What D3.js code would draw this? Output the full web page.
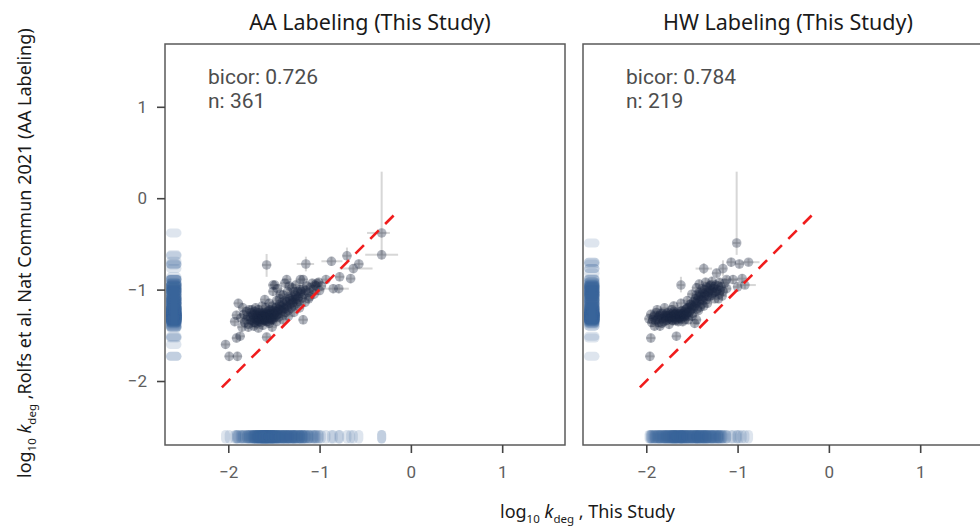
<!DOCTYPE html>
<html>
<head>
<meta charset="utf-8">
<script src="https://cdn.jsdelivr.net/npm/d3@7"></script>
<style>
body { margin: 0; background: #fff; }
</style>
</head>
<body>
<svg width="980" height="526"></svg>
<script>
var panels = ["AA Labeling (This Study)", "HW Labeling (This Study)"];
var bicor = ["0.726", "0.784"];
var counts = [361, 219];
var xTicks = [-2, -1, 0, 1];
var yTicks = [-2, -1, 0, 1];
var identity = [-2.07, -0.14];
var defaultErr = 0.05;

// [x, y] or [x, y, xlo, xhi, ylo, yhi]
var aaPoints = [
  [-2.03,-1.60],[-1.99,-1.73],[-1.90,-1.73],[-1.91,-1.53],[-1.87,-1.51],[-1.58,-1.52],[-1.18,-1.33],
  [-1.58,-0.73,-1.63,-1.53,-0.86,-0.61],
  [-1.15,-0.72,-1.25,-1.06,-0.80,-0.64],
  [-0.87,-0.69,-0.98,-0.75,-0.74,-0.64],
  [-0.70,-0.63,-0.75,-0.65,-0.71,-0.54],
  [-0.63,-0.77,-0.78,-0.42,-0.82,-0.72],
  [-0.57,-0.72],[-0.66,-0.88],[-0.78,-0.86],
  [-0.85,-0.99,-0.98,-0.68,-1.04,-0.94],
  [-0.79,-0.99],[-0.93,-0.89],[-0.98,-0.96],
  [-0.32,-0.38,-0.48,-0.23,-0.62,0.29],
  [-0.32,-0.62,-0.50,-0.14,-0.67,-0.57],
  [-1.36,-0.89],[-1.49,-0.95],[-1.21,-0.89],[-1.03,-0.93],[-1.18,-0.89],[-1.51,-0.95],[-1.38,-0.93],
  [-1.05,-0.95],[-1.21,-1.00],[-1.11,-1.08],[-1.29,-1.11],[-1.60,-1.11],[-1.51,-1.02],[-1.40,-1.06],
  [-1.89,-1.15],[-1.84,-1.20],[-1.91,-1.28],[-1.93,-1.35],[-1.85,-1.41],[-1.78,-1.41],[-1.67,-1.42],[-1.52,-1.41],
  [-1.76,-1.30],[-1.75,-1.25],[-1.74,-1.34],[-1.73,-1.28],[-1.72,-1.31],[-1.71,-1.36],[-1.70,-1.27],[-1.70,-1.32],
  [-1.69,-1.29],[-1.68,-1.34],[-1.68,-1.25],[-1.67,-1.31],[-1.66,-1.28],[-1.66,-1.35],[-1.65,-1.30],[-1.64,-1.27],
  [-1.64,-1.33],[-1.63,-1.29],[-1.62,-1.31],[-1.62,-1.26],[-1.61,-1.34],[-1.60,-1.29],[-1.60,-1.32],[-1.59,-1.27],
  [-1.58,-1.30],[-1.58,-1.35],[-1.57,-1.24],[-1.56,-1.29],[-1.56,-1.32],[-1.55,-1.27],[-1.54,-1.30],[-1.54,-1.22],
  [-1.53,-1.33],[-1.52,-1.26],[-1.51,-1.29],[-1.50,-1.23],[-1.50,-1.31],[-1.49,-1.26],[-1.48,-1.20],[-1.47,-1.28],
  [-1.46,-1.24],[-1.45,-1.30],[-1.44,-1.21],[-1.43,-1.26],[-1.42,-1.18],[-1.41,-1.23],[-1.40,-1.28],[-1.39,-1.16],
  [-1.38,-1.21],[-1.37,-1.25],[-1.36,-1.13],[-1.35,-1.19],[-1.34,-1.23],[-1.33,-1.10],[-1.32,-1.16],[-1.31,-1.20],
  [-1.30,-1.08],[-1.29,-1.14],[-1.28,-1.18],[-1.27,-1.05],[-1.26,-1.11],[-1.25,-1.15],[-1.24,-1.02],[-1.23,-1.08],
  [-1.22,-1.13],[-1.21,-1.04],[-1.19,-1.09],[-1.18,-0.99],[-1.17,-1.05],[-1.15,-1.01],[-1.14,-0.96],[-1.12,-1.03],
  [-1.10,-0.98],[-1.08,-0.93],[-1.07,-1.00],[-1.04,-0.96],[-1.01,-0.92],
  [-1.86,-1.31],[-1.83,-1.27],[-1.82,-1.36],[-1.80,-1.24],[-1.80,-1.33],[-1.79,-1.29],[-1.78,-1.38],[-1.77,-1.22],
  [-1.65,-1.32],[-1.63,-1.30],[-1.61,-1.28],[-1.59,-1.31],[-1.57,-1.28],[-1.55,-1.31],[-1.53,-1.29],[-1.60,-1.34],
  [-1.67,-1.27],[-1.62,-1.33],[-1.58,-1.26],[-1.52,-1.32],[-1.69,-1.33],[-1.64,-1.29],[-1.56,-1.26],
  [-1.70,-1.20],[-1.63,-1.18],[-1.55,-1.15],[-1.47,-1.12],[-1.43,-1.05],[-1.35,-1.02],[-1.30,-0.98],[-1.26,-0.95],
  [-1.46,-0.99],[-1.33,-0.96],
  [-1.72,-1.40],[-1.62,-1.39],[-1.55,-1.37],[-1.47,-1.35],[-1.40,-1.33],[-1.34,-1.29],[-1.28,-1.25],[-1.22,-1.20],
  [-1.16,-1.14],[-1.12,-1.10],[-1.06,-1.05],[-1.00,-1.01],
  [-1.74,-1.22],[-1.72,-1.36],[-1.71,-1.24],[-1.69,-1.37],[-1.68,-1.30],[-1.66,-1.32],[-1.65,-1.25],[-1.64,-1.36],
  [-1.63,-1.32],[-1.62,-1.28],[-1.61,-1.30],[-1.60,-1.25],[-1.59,-1.33],[-1.58,-1.28],[-1.57,-1.31],[-1.56,-1.35],
  [-1.55,-1.23],[-1.54,-1.27],[-1.53,-1.31],[-1.52,-1.24],[-1.51,-1.33],[-1.50,-1.27],[-1.49,-1.30],[-1.48,-1.24],
  [-1.47,-1.19],[-1.46,-1.27],[-1.45,-1.22],[-1.44,-1.16],[-1.42,-1.22],[-1.41,-1.14],[-1.39,-1.20],[-1.38,-1.12],
  [-1.36,-1.18],[-1.34,-1.08],[-1.32,-1.12],[-1.30,-1.15],[-1.28,-1.02],[-1.26,-1.07],[-1.24,-1.10],[-1.20,-1.02],
  [-1.76,-1.33],[-1.73,-1.27],[-1.67,-1.22],[-1.59,-1.20],[-1.52,-1.18],[-1.44,-1.10]
];

var hwPoints = [
  [-1.96,-1.73],[-1.95,-1.53],[-1.67,-1.51],
  [-1.01,-0.49,-1.05,-0.97,-0.62,0.29],
  [-1.37,-0.77,-1.46,-1.28,-0.83,-0.71],
  [-1.62,-0.95,-1.66,-1.58,-1.03,-0.86],
  [-1.16,-0.77,-1.20,-1.12,-0.85,-0.68],
  [-1.07,-0.70],[-0.98,-0.72],
  [-0.88,-0.70,-0.96,-0.76,-0.74,-0.66],
  [-1.23,-0.82],
  [-1.12,-0.89,-1.20,-1.00,-0.93,-0.85],
  [-1.05,-0.89],
  [-0.92,-0.95,-1.01,-0.80,-0.99,-0.91],
  [-1.12,-0.99],[-1.45,-1.33],[-1.21,-1.10],[-1.00,-0.97],[-0.95,-0.88],
  [-1.97,-1.32],[-1.95,-1.27],[-1.94,-1.36],[-1.92,-1.30],[-1.90,-1.34],[-1.89,-1.25],[-1.87,-1.31],[-1.86,-1.36],
  [-1.85,-1.28],[-1.83,-1.32],[-1.82,-1.26],[-1.81,-1.35],[-1.80,-1.29],[-1.79,-1.31],[-1.78,-1.26],[-1.77,-1.33],
  [-1.76,-1.29],[-1.75,-1.31],[-1.74,-1.27],[-1.73,-1.30],[-1.72,-1.33],[-1.71,-1.26],[-1.70,-1.29],[-1.69,-1.31],
  [-1.68,-1.27],[-1.67,-1.30],[-1.66,-1.24],[-1.65,-1.28],[-1.64,-1.31],[-1.63,-1.26],[-1.62,-1.29],[-1.61,-1.23],
  [-1.60,-1.27],[-1.59,-1.30],[-1.58,-1.24],[-1.57,-1.27],[-1.56,-1.21],[-1.55,-1.25],[-1.54,-1.29],[-1.53,-1.19],
  [-1.52,-1.23],[-1.51,-1.16],[-1.50,-1.21],[-1.49,-1.26],[-1.48,-1.13],[-1.47,-1.18],[-1.46,-1.10],[-1.45,-1.15],
  [-1.44,-1.21],[-1.43,-1.08],[-1.42,-1.13],[-1.41,-1.05],[-1.40,-1.11],[-1.39,-1.16],[-1.38,-1.03],[-1.37,-1.08],
  [-1.36,-1.00],[-1.35,-1.06],[-1.34,-1.11],[-1.33,-0.98],[-1.32,-1.03],[-1.31,-1.08],[-1.30,-0.96],[-1.29,-1.01],
  [-1.28,-1.06],[-1.27,-0.99],[-1.25,-1.03],[-1.24,-0.95],[-1.22,-1.00],[-1.20,-1.05],[-1.18,-0.97],[-1.16,-1.02],
  [-1.14,-0.93],[-1.80,-1.20],[-1.72,-1.22],[-1.65,-1.35],[-1.58,-1.33],[-1.50,-1.29],[-1.43,-1.23],[-1.37,-1.18],
  [-1.91,-1.40],[-1.47,-1.37],[-1.75,-1.38],[-1.68,-1.34],[-1.62,-1.32],[-1.70,-1.28],[-1.66,-1.29],[-1.60,-1.29],
  [-1.93,-1.33],[-1.91,-1.28],[-1.88,-1.33],[-1.86,-1.29],[-1.84,-1.26],[-1.83,-1.37],[-1.81,-1.31],[-1.79,-1.28],
  [-1.78,-1.34],[-1.77,-1.29],[-1.76,-1.25],[-1.74,-1.32],[-1.73,-1.28],[-1.72,-1.30],[-1.71,-1.34],[-1.70,-1.24],
  [-1.69,-1.27],[-1.68,-1.32],[-1.67,-1.26],[-1.66,-1.33],[-1.64,-1.27],[-1.63,-1.30],[-1.62,-1.24],[-1.61,-1.27],
  [-1.59,-1.26],[-1.58,-1.29],[-1.57,-1.22],[-1.56,-1.28],[-1.55,-1.20],[-1.53,-1.25],[-1.52,-1.16],[-1.50,-1.18],
  [-1.48,-1.20],[-1.46,-1.14],[-1.45,-1.06],[-1.44,-1.12],[-1.42,-1.03],[-1.40,-1.07],[-1.39,-0.99],[-1.38,-1.12],
  [-1.36,-1.04],[-1.34,-0.97],[-1.33,-1.07],[-1.31,-1.01],[-1.29,-0.95],[-1.27,-1.04],[-1.26,-0.97],[-1.23,-1.02],
  [-1.21,-0.96],[-1.19,-1.01],[-1.88,-1.22],[-1.85,-1.40],[-1.60,-1.35],[-1.54,-1.33],[-1.41,-1.19],
  [-1.55,-1.12],[-1.50,-1.05],[-1.45,-0.98],[-1.42,-0.94],[-1.35,-0.92],[-1.28,-0.91],[-1.20,-0.92],
  [-1.70,-1.18],[-1.62,-1.15],[-1.33,-1.15],[-1.25,-1.10],[-1.17,-1.07]
];

var allPoints = [aaPoints, hwPoints];

var svg = d3.select('svg');
var lefts = [165, 583];
var size = 400;

var y = d3.scaleLinear().domain([-2.70, 1.687]).range([445, 44]);

svg.append("defs").selectAll("clipPath")
    .data(lefts)
    .enter()
    .append("clipPath")
    .attr("id", function (d, i) { return "clip" + i })
    .append("rect")
    .attr("x", function (d) { return d })
    .attr("y", 44)
    .attr("width", size)
    .attr("height", 401);

lefts.forEach(function (left, i) {
    var x = d3.scaleLinear().domain([-2.693, 1.688]).range([left, left + size]);
    var pts = allPoints[i];
    var g = svg.append("g").attr("clip-path", "url(#clip" + i + ")");

    // rugs
    g.selectAll(".rugy")
        .data(pts)
        .enter()
        .append("line")
        .attr("x1", left + 5.5)
        .attr("x2", left + 12)
        .attr("y1", function (d) { return y(d[1]) })
        .attr("y2", function (d) { return y(d[1]) })
        .attr("stroke", "#38649a")
        .attr("stroke-width", 9)
        .attr("stroke-linecap", "round")
        .attr("opacity", 0.16);

    g.selectAll(".rugx")
        .data(pts)
        .enter()
        .append("line")
        .attr("x1", function (d) { return x(d[0]) })
        .attr("x2", function (d) { return x(d[0]) })
        .attr("y1", 434.5)
        .attr("y2", 439)
        .attr("stroke", "#38649a")
        .attr("stroke-width", 9)
        .attr("stroke-linecap", "round")
        .attr("opacity", 0.16);

    // error bars
    g.selectAll(".ex")
        .data(pts)
        .enter()
        .append("line")
        .attr("x1", function (d) { return x(d.length > 2 ? d[2] : d[0] - defaultErr) })
        .attr("x2", function (d) { return x(d.length > 2 ? d[3] : d[0] + defaultErr) })
        .attr("y1", function (d) { return y(d[1]) })
        .attr("y2", function (d) { return y(d[1]) })
        .attr("stroke", "#b0b0b0")
        .attr("stroke-width", 2)
        .attr("opacity", 0.5);

    g.selectAll(".ey")
        .data(pts)
        .enter()
        .append("line")
        .attr("x1", function (d) { return x(d[0]) })
        .attr("x2", function (d) { return x(d[0]) })
        .attr("y1", function (d) { return y(d.length > 2 ? d[4] : d[1] - defaultErr) })
        .attr("y2", function (d) { return y(d.length > 2 ? d[5] : d[1] + defaultErr) })
        .attr("stroke", "#b0b0b0")
        .attr("stroke-width", 2)
        .attr("opacity", 0.5);

    g.selectAll("circle")
        .data(pts)
        .enter()
        .append("circle")
        .attr("cx", function (d) { return x(d[0]) })
        .attr("cy", function (d) { return y(d[1]) })
        .attr("r", 4.8)
        .attr("fill", "#1a2640")
        .attr("opacity", 0.34);

    g.append("line")
        .attr("x1", x(identity[0]))
        .attr("y1", y(identity[0]))
        .attr("x2", x(identity[1]))
        .attr("y2", y(identity[1]))
        .attr("stroke", "#f01c1c")
        .attr("stroke-width", 2.6)
        .attr("stroke-dasharray", "12,9");

    // panel border
    svg.append("rect")
        .attr("x", left)
        .attr("y", 44)
        .attr("width", size)
        .attr("height", 401)
        .attr("fill", "none")
        .attr("stroke", "#5a5a5a")
        .attr("stroke-width", 1.5);

    var xa = svg.append("g")
        .attr("transform", "translate(0,445)")
        .call(d3.axisBottom(x).tickValues(xTicks).tickSize(8).tickPadding(13).tickFormat(d3.format("d")));
    xa.select(".domain").remove();
    xa.selectAll("line").attr("stroke", "#444").attr("stroke-width", 1.6);
    xa.selectAll("text").attr("fill", "#5e5e5e").style("font-family", "Roboto").style("font-size", "17px");

    svg.append("text")
        .attr("x", left + 205)
        .attr("y", 30)
        .attr("text-anchor", "middle")
        .style("font-family", "Noto Sans")
        .style("font-size", "21.5px")
        .attr("fill", "#1a1a1a")
        .text(panels[i]);

    svg.append("text")
        .attr("x", left + 43)
        .attr("y", 84)
        .style("font-family", "Roboto")
        .style("font-size", "21px")
        .attr("fill", "#4d4d4d")
        .text("bicor: " + bicor[i]);

    svg.append("text")
        .attr("x", left + 43)
        .attr("y", 108)
        .style("font-family", "Roboto")
        .style("font-size", "21px")
        .attr("fill", "#4d4d4d")
        .text("n: " + counts[i]);
});

var ya = svg.append("g")
    .attr("transform", "translate(165,0)")
    .call(d3.axisLeft(y).tickValues(yTicks).tickSize(8).tickPadding(10).tickFormat(d3.format("d")));
ya.select(".domain").remove();
ya.selectAll("line").attr("stroke", "#444").attr("stroke-width", 1.6);
ya.selectAll("text").attr("fill", "#5e5e5e").style("font-family", "Roboto").style("font-size", "17px");

function kdegLabel(t, rest) {
    t.style("font-family", "Noto Sans").style("font-size", "18px").attr("fill", "#1a1a1a");
    t.append("tspan").text("log");
    t.append("tspan").attr("dy", 5).style("font-size", "11.5px").text("10");
    t.append("tspan").attr("dy", -5).text(" ");
    t.append("tspan").style("font-style", "italic").text("k");
    t.append("tspan").attr("dy", 5).style("font-size", "11.5px").text("deg");
    t.append("tspan").attr("dy", -5).text(rest);
}

svg.append("text")
    .attr("x", 500)
    .attr("y", 518)
    .call(kdegLabel, " , This Study");

svg.append("text")
    .attr("transform", "translate(31,478) rotate(-90)")
    .call(kdegLabel, " ,Rolfs et al. Nat Commun 2021 (AA Labeling)");
</script>
</body>
</html>
